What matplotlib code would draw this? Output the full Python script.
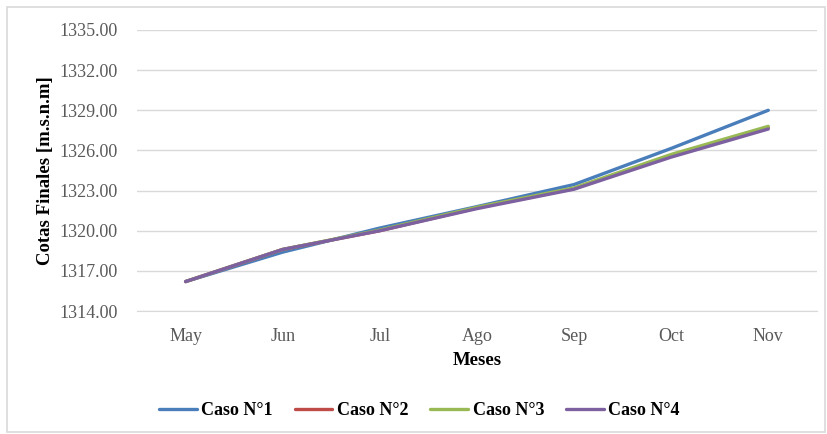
import matplotlib.pyplot as plt
from matplotlib.patches import Rectangle

meses = ['May', 'Jun', 'Jul', 'Ago', 'Sep', 'Oct', 'Nov']
caso_1 = [1316.2, 1318.4, 1320.2, 1321.8, 1323.45, 1326.15, 1329.0]
caso_2 = [1316.2, 1318.6, 1320.0, 1321.7, 1323.15, 1325.6, 1327.7]
caso_3 = [1316.2, 1318.6, 1320.05, 1321.75, 1323.2, 1325.7, 1327.8]
caso_4 = [1316.2, 1318.6, 1320.0, 1321.65, 1323.1, 1325.5, 1327.6]
y_ticks = [1314, 1317, 1320, 1323, 1326, 1329, 1332, 1335]

plt.rcParams['font.family'] = ['Liberation Serif', 'DejaVu Serif']

fig = plt.figure(figsize=(8.27, 4.34), dpi=100)
ax = fig.add_axes([0.1657, 0.2834, 0.822, 0.6475])

# chart frame
fig.patches.append(Rectangle((0.009, 0.005), 0.988, 0.98, transform=fig.transFigure,
                             fill=False, edgecolor='#d9d9d9', linewidth=1.2))

series = [
    (caso_1, '#4a7ebb', 'Caso N°1'),
    (caso_2, '#be4b48', 'Caso N°2'),
    (caso_3, '#98b954', 'Caso N°3'),
    (caso_4, '#7d60a0', 'Caso N°4'),
]
x = range(len(meses))
for vals, color, label in series:
    ax.plot(x, vals, color=color, linewidth=2.4, label=label,
            solid_capstyle='round')

ax.set_xlim(-0.5, len(meses) - 0.5)
ax.set_ylim(1314, 1335)
ax.set_yticks(y_ticks)
ax.set_yticklabels([f'{v:.2f}' for v in y_ticks])
ax.set_xticks(list(x))
ax.set_xticklabels(meses)
ax.grid(axis='y', color='#d9d9d9', linewidth=1)
ax.set_axisbelow(True)
for side in ['top', 'right', 'left']:
    ax.spines[side].set_visible(False)
ax.spines['bottom'].set_color('#d9d9d9')
ax.tick_params(length=0, labelsize=13, labelcolor='#595959')
ax.tick_params(axis='y', pad=14)
ax.tick_params(axis='x', pad=12)

ax.set_xlabel('Meses', fontsize=13.5, fontweight='bold', labelpad=5)
ax.set_ylabel('Cotas Finales [m.s.n.m]', fontsize=13.5, fontweight='bold', labelpad=4)

ax.legend(loc='center', bbox_to_anchor=(0.507, 0.053), bbox_transform=fig.transFigure,
          ncol=4, frameon=False, prop={'weight': 'bold', 'size': 13},
          handlelength=2.1, handletextpad=0.25, columnspacing=1.2)

fig.savefig('out.png', dpi=100)
